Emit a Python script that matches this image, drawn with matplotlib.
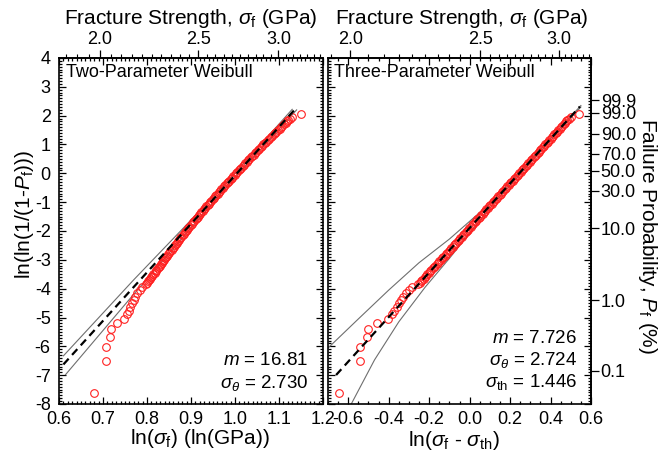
import numpy as np
import matplotlib
matplotlib.use('Agg')
import matplotlib.pyplot as plt
from matplotlib.ticker import MultipleLocator, FormatStrFormatter, NullLocator

plt.rcParams['font.family'] = ['Liberation Sans', 'DejaVu Sans']
plt.rcParams['mathtext.fontset'] = 'custom'
plt.rcParams['mathtext.rm'] = 'Liberation Sans'
plt.rcParams['mathtext.it'] = 'Liberation Sans:italic'
plt.rcParams['mathtext.bf'] = 'Liberation Sans:bold'
plt.rcParams['axes.unicode_minus'] = False

# ---------------- data ----------------
# fracture strength of each plotted specimen (GPa) and its ln(ln(1/(1-Pf)))
strength_gpa = [
    1.971, 2.029, 2.029, 2.048, 2.051, 2.079, 2.114, 2.127, 2.135, 2.143,
    2.151, 2.159, 2.167, 2.175, 2.188, 2.200,
    2.222, 2.227, 2.232, 2.237, 2.243, 2.248, 2.253, 2.258, 2.264, 2.269,
    2.274, 2.280, 2.285, 2.290, 2.296, 2.302, 2.307, 2.313, 2.318, 2.324,
    2.330, 2.335, 2.341, 2.347, 2.353, 2.359, 2.365, 2.371, 2.377, 2.383,
    2.389, 2.395, 2.401, 2.407, 2.413, 2.420, 2.426, 2.432, 2.438, 2.445,
    2.451, 2.458, 2.465, 2.471, 2.478, 2.485, 2.492, 2.498, 2.505, 2.512,
    2.519, 2.526, 2.533, 2.540, 2.547, 2.554, 2.562, 2.569, 2.576, 2.584,
    2.591, 2.598, 2.606, 2.613, 2.621, 2.628, 2.636, 2.644, 2.651, 2.659,
    2.667, 2.675, 2.683, 2.691, 2.699, 2.707, 2.716, 2.724, 2.732, 2.741,
    2.749, 2.757, 2.766, 2.774, 2.783, 2.791, 2.800, 2.809, 2.818, 2.827,
    2.836, 2.845, 2.854, 2.863, 2.872, 2.882, 2.891, 2.900, 2.910, 2.919,
    2.929, 2.938, 2.948, 2.958, 2.967, 2.977, 2.987, 2.997, 3.008, 3.018,
    3.028, 3.038, 3.049, 3.059,
    3.068, 3.078, 3.095, 3.160,
]
lnln_pf = [
    -7.61, -6.51, -6.01, -5.69, -5.41, -5.20, -5.05, -4.88, -4.77, -4.63,
    -4.49, -4.39, -4.28, -4.16, -4.05, -3.93,
    -3.85, -3.80, -3.75, -3.70, -3.65, -3.60, -3.55, -3.50, -3.45, -3.40,
    -3.35, -3.30, -3.25, -3.20, -3.15, -3.10, -3.05, -3.00, -2.95, -2.90,
    -2.85, -2.80, -2.75, -2.70, -2.65, -2.60, -2.55, -2.50, -2.45, -2.40,
    -2.35, -2.30, -2.25, -2.20, -2.15, -2.10, -2.05, -2.00, -1.95, -1.90,
    -1.85, -1.80, -1.75, -1.70, -1.65, -1.60, -1.55, -1.50, -1.45, -1.40,
    -1.35, -1.30, -1.25, -1.20, -1.15, -1.10, -1.05, -1.00, -0.95, -0.90,
    -0.85, -0.80, -0.75, -0.70, -0.65, -0.60, -0.55, -0.50, -0.45, -0.40,
    -0.35, -0.30, -0.25, -0.20, -0.15, -0.10, -0.05, 0.00, 0.05, 0.10,
    0.15, 0.20, 0.25, 0.30, 0.35, 0.40, 0.45, 0.50, 0.55, 0.60,
    0.65, 0.70, 0.75, 0.80, 0.85, 0.90, 0.95, 1.00, 1.05, 1.10,
    1.15, 1.20, 1.25, 1.30, 1.35, 1.40, 1.45, 1.50, 1.55, 1.60,
    1.65, 1.70, 1.75, 1.80,
    1.85, 1.90, 1.95, 2.06,
]

# Weibull parameters
m_two, s0_two = 16.81, 2.730
m_three, s0_three, s_th = 7.726, 2.724, 1.446

# fit-line extents (x in each panel's own coordinate)
fit_two_x = [0.61, 1.135]
fit_three_x = [-0.66, 0.545]

# confidence bounds
two_upper_x = [0.61, 0.77, 0.88, 1.00, 1.13]
two_upper_y = [-6.33, -3.69, -1.94, 0.01, 2.22]
two_lower_x = [0.615, 0.77, 0.88, 1.00, 1.14]
two_lower_y = [-6.98, -4.19, -2.24, -0.15, 2.20]

three_upper_x = [-0.70, -0.55, -0.40, -0.25, -0.10, 0.10, 0.30, 0.55]
three_upper_y = [-6.06, -5.05, -4.05, -3.10, -2.28, -1.05, 0.46, 2.35]
three_lower_x = [-0.585, -0.47, -0.35, -0.22, -0.10, 0.10, 0.30, 0.55]
three_lower_y = [-8.00, -6.47, -5.15, -3.95, -2.95, -1.20, 0.38, 2.30]

pf_ticks = [0.1, 1.0, 10.0, 30.0, 50.0, 70.0, 90.0, 99.0, 99.9]
gpa_ticks = [2.0, 2.5, 3.0]

# ---------------- figure ----------------
W, H = 670, 457
fig = plt.figure(figsize=(W / 100, H / 100), dpi=100)

def px_axes(l, t, r, b):
    return [l / W, 1 - b / H, (r - l) / W, (b - t) / H]

axL = fig.add_axes(px_axes(59, 58, 323, 404))
axR = fig.add_axes(px_axes(328, 58, 591, 404))

s = np.array(strength_gpa)
yv = np.array(lnln_pf)
xL = np.log(s)
xR = np.log(s - s_th)

red = '#ff2020'
for ax, xd in ((axL, xL), (axR, xR)):
    ax.plot(xd, yv, linestyle='none', marker='o', ms=5.5, mfc='none',
            mec=red, mew=0.8, zorder=3)

# fit lines
fx = np.array(fit_two_x)
axL.plot(fx, m_two * (fx - np.log(s0_two)), color='black', lw=1.6,
         dashes=(3.5, 2.3), zorder=4)
fx = np.array(fit_three_x)
axR.plot(fx, m_three * (fx - np.log(s0_three - s_th)), color='black', lw=1.6,
         dashes=(3.5, 2.3), zorder=4)

gray = '#6e6e6e'
axL.plot(two_upper_x, two_upper_y, color=gray, lw=0.8, zorder=2)
axL.plot(two_lower_x, two_lower_y, color=gray, lw=0.8, zorder=2)
axR.plot(three_upper_x, three_upper_y, color=gray, lw=0.8, zorder=2)
axR.plot(three_lower_x, three_lower_y, color=gray, lw=0.8, zorder=2)

TICK_FS = 13
LABEL_FS = 15
# axes formatting
axL.set_xlim(0.6, 1.2)
axR.set_xlim(-0.7, 0.6)
for ax in (axL, axR):
    ax.set_ylim(-8, 4)
    ax.yaxis.set_major_locator(MultipleLocator(1))
    ax.yaxis.set_minor_locator(MultipleLocator(0.1))
    ax.xaxis.set_major_formatter(FormatStrFormatter('%.1f'))
    ax.tick_params(which='both', direction='in', top=True, right=True,
                   labelsize=TICK_FS, width=0.9)
    ax.tick_params(which='major', length=5)
    ax.tick_params(which='minor', length=2.5)
    ax.tick_params(axis='x', pad=5)
    ax.tick_params(axis='y', pad=6)
    for sp in ax.spines.values():
        sp.set_linewidth(1.2)
axL.xaxis.set_major_locator(MultipleLocator(0.1))
axL.xaxis.set_minor_locator(MultipleLocator(0.01))
axR.xaxis.set_major_locator(MultipleLocator(0.2))
axR.xaxis.set_minor_locator(MultipleLocator(0.05))
axR.tick_params(labelleft=False)

# top GPa axes
secL = axL.secondary_xaxis('top', functions=(np.exp, np.log))
secR = axR.secondary_xaxis(
    'top', functions=(lambda x: s_th + np.exp(x),
                      lambda v: np.log(np.clip(np.asarray(v, float) - s_th, 1e-9, None))))
for sec in (secL, secR):
    sec.set_xticks(gpa_ticks)
    sec.xaxis.set_major_formatter(FormatStrFormatter('%.1f'))
    sec.xaxis.set_minor_locator(MultipleLocator(0.05))
    sec.tick_params(which='major', direction='out', length=6, width=0.9,
                    labelsize=TICK_FS, pad=1.5)
    sec.tick_params(which='minor', direction='out', length=3, width=0.8)
    sec.spines['top'].set_linewidth(1.2)

# probability axis
def to_pct(y):
    return 100.0 * (1.0 - np.exp(-np.exp(y)))

def from_pct(p):
    q = np.clip(np.asarray(p, float) / 100.0, 1e-12, 1 - 1e-12)
    return np.log(-np.log(1.0 - q))

secP = axR.secondary_yaxis('right', functions=(to_pct, from_pct))
secP.set_yticks(pf_ticks)
secP.yaxis.set_major_formatter(FormatStrFormatter('%.1f'))
secP.yaxis.set_minor_locator(NullLocator())
secP.tick_params(which='major', direction='out', length=6, width=0.9,
                 labelsize=TICK_FS, pad=1.0)
secP.spines['right'].set_linewidth(1.2)

# labels
def ftext(x, y, s, **kw):
    fig.text(x / W, 1 - y / H, s, ha='center', va='center', **kw)

ftext(191, 18, r'Fracture Strength, $\sigma_\mathrm{f}$ (GPa)', fontsize=LABEL_FS)
ftext(462, 18, r'Fracture Strength, $\sigma_\mathrm{f}$ (GPa)', fontsize=LABEL_FS)
ftext(200, 438, r'ln($\sigma_\mathrm{f}$) (ln(GPa))', fontsize=LABEL_FS)
ftext(454, 441, r'ln($\sigma_\mathrm{f}$ - $\sigma_\mathrm{th}$)', fontsize=LABEL_FS)
ftext(24, 214, r'ln(ln(1/(1-$P_\mathrm{f}$)))', fontsize=LABEL_FS, rotation=90)
ftext(648, 236, r'Failure Probability, $P_\mathrm{f}$ (%)', fontsize=LABEL_FS,
      rotation=270)

axL.text(0.027, 0.958, 'Two-Parameter Weibull', transform=axL.transAxes,
         ha='left', va='center', fontsize=13)
axR.text(0.022, 0.958, 'Three-Parameter Weibull', transform=axR.transAxes,
         ha='left', va='center', fontsize=13)

axL.text(0.945, 0.127, r'$m$ = %.2f' % m_two, transform=axL.transAxes,
         ha='right', va='center', fontsize=13.5)
axL.text(0.945, 0.061, r'$\sigma_\theta$ = %.3f' % s0_two, transform=axL.transAxes,
         ha='right', va='center', fontsize=13.5)
axR.text(0.947, 0.19, r'$m$ = %.3f' % m_three, transform=axR.transAxes,
         ha='right', va='center', fontsize=13.5)
axR.text(0.947, 0.127, r'$\sigma_\theta$ = %.3f' % s0_three, transform=axR.transAxes,
         ha='right', va='center', fontsize=13.5)
axR.text(0.947, 0.064, r'$\sigma_\mathrm{th}$ = %.3f' % s_th, transform=axR.transAxes,
         ha='right', va='center', fontsize=13.5)

fig.savefig('out.png', dpi=100)
